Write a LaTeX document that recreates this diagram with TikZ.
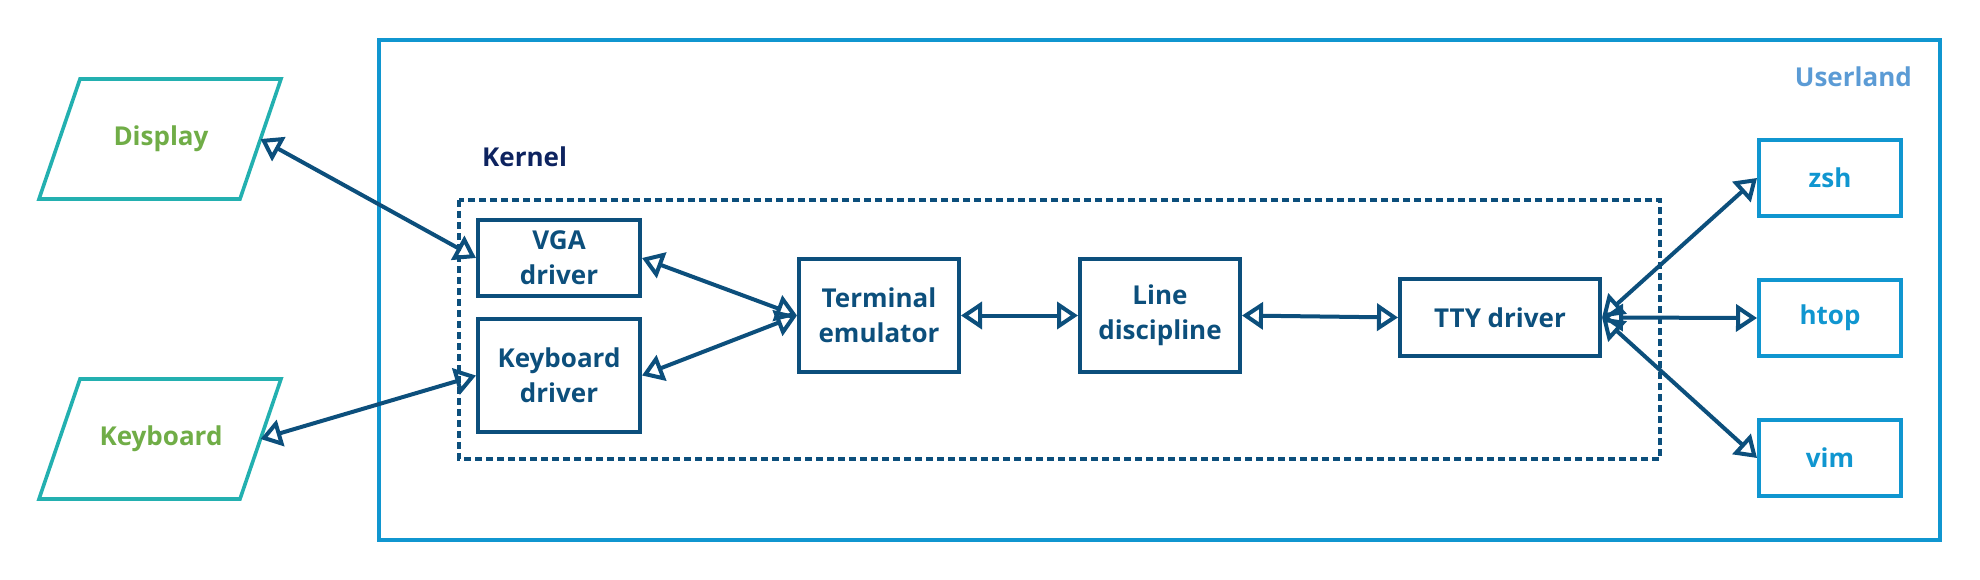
\documentclass[tikz,border=0pt]{standalone}
\usepackage{fontspec}
\setmainfont{Open Sans}
\usetikzlibrary{arrows.meta}
\definecolor{kblue}{RGB}{12,79,124}
\definecolor{ublue}{RGB}{16,150,208}
\definecolor{utext}{RGB}{91,155,213}
\definecolor{knavy}{RGB}{13,35,95}
\definecolor{teal}{RGB}{35,176,176}
\definecolor{dgreen}{RGB}{112,173,71}
\newcommand{\fs}{\fontsize{26}{35}\selectfont\bfseries}
\begin{document}
\begin{tikzpicture}[x=1pt,y=-1pt,
  kbox/.style={draw=kblue, line width=4pt, text=kblue, align=center, inner sep=0pt, font=\fs},
  ubox/.style={draw=ublue, line width=4pt, text=ublue, align=center, inner sep=0pt, font=\fs, minimum width=142pt, minimum height=76pt},
  conn/.style={draw=kblue, line width=4pt, {Triangle[open,length=21pt,width=27pt]}-{Triangle[open,length=21pt,width=27pt]}},
  para/.style={draw=teal, line width=3.6pt, line join=miter},
  lbl/.style={font=\fs, inner sep=0pt}
]
\useasboundingbox (0,0) rectangle (1980,580);
% Userland frame
\draw[draw=ublue, line width=4pt] (379,40) rectangle (1940,540);
\node[lbl, text=utext, anchor=east] (ulab) at (1912,77) {Userland};
% Kernel frame
\draw[draw=kblue, line width=3.6pt, dash pattern=on 7pt off 4pt] (459,200) rectangle (1660,459);
\node[lbl, text=knavy, anchor=west] (klab) at (482,157) {Kernel};
% Display / Keyboard
\draw[para] (80,79) -- (281,79) -- (240,199) -- (39,199) -- cycle;
\node[lbl, text=dgreen] (disp) at (161,139) {Display};
\coordinate (dispE) at (260.5,139);
\draw[para] (80,379) -- (281,379) -- (240,499) -- (39,499) -- cycle;
\node[lbl, text=dgreen] (kbd) at (161,439) {Keyboard};
\coordinate (kbdE) at (260.5,439);
% Kernel boxes
\node[kbox, minimum width=162pt, minimum height=76pt] (vga) at (559,258) {VGA\\driver};
\node[kbox, minimum width=162pt, minimum height=113pt] (kbdd) at (559,375.5) {Keyboard\\driver};
\node[kbox, minimum width=160pt, minimum height=113pt] (term) at (879,315.5) {Terminal\\emulator};
\node[kbox, minimum width=160pt, minimum height=113pt] (line) at (1160,315.5) {Line\\discipline};
\node[kbox, minimum width=200pt, minimum height=77pt] (tty) at (1500,317.5) {TTY driver};
% Userland apps
\node[ubox] (zsh) at (1830,178) {zsh};
\node[ubox] (htop) at (1830,318) {htop};
\node[ubox] (vim) at (1830,458) {vim};
% Connectors
\draw[conn] (dispE) -- (vga.west);
\draw[conn] (kbdE) -- (kbdd.west);
\draw[conn] (vga.east) -- (term.west);
\draw[conn] (kbdd.east) -- (term.west);
\draw[conn] (term.east) -- (line.west);
\draw[conn] (line.east) -- (tty.west);
\draw[conn] (tty.east) -- (zsh.west);
\draw[conn] (tty.east) -- (htop.west);
\draw[conn] (tty.east) -- (vim.west);
\end{tikzpicture}
\end{document}
